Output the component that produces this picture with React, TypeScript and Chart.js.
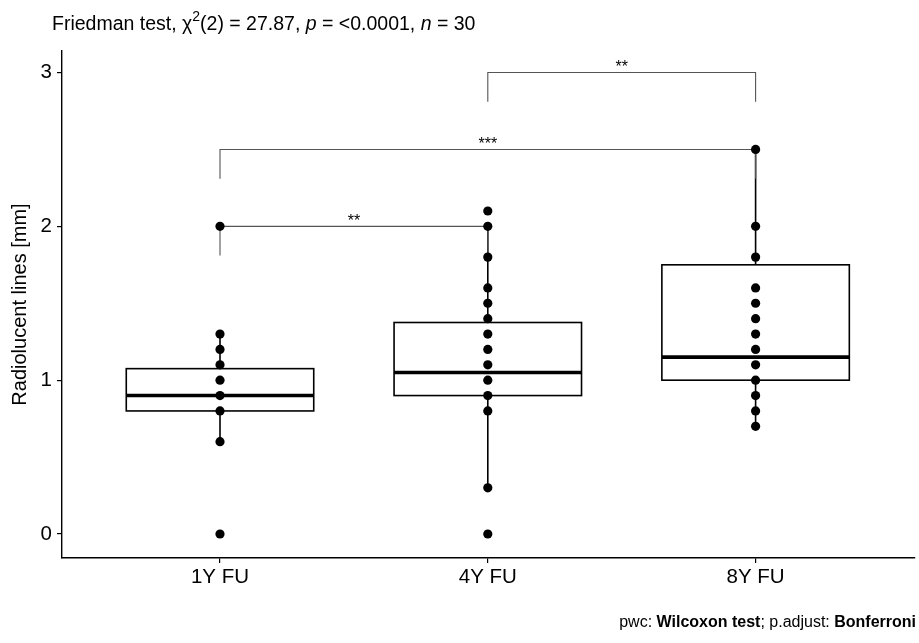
import React, { useEffect, useRef } from 'react';
import { Chart, registerables } from 'chart.js';

Chart.register(...registerables);

const FONT = '"Liberation Sans", Arial, Helvetica, sans-serif';

const categories = ['1Y FU', '4Y FU', '8Y FU'];
const values1Y = [0, 0.6, 0.8, 0.9, 1.0, 1.1, 1.2, 1.3, 2.0];
const values4Y = [0, 0.3, 0.8, 0.9, 1.0, 1.1, 1.2, 1.3, 1.4, 1.5, 1.6, 1.8, 2.0, 2.1];
const values8Y = [0.7, 0.8, 0.9, 1.0, 1.1, 1.2, 1.3, 1.4, 1.5, 1.6, 1.8, 2.0, 2.5];
const groupValues = [values1Y, values4Y, values8Y];

const boxQ1 = [0.8, 0.9, 1.0];
const boxMedian = [0.9, 1.05, 1.15];
const boxQ3 = [1.075, 1.375, 1.75];
const whiskerLow = [0.6, 0.3, 0.7];
const whiskerHigh = [1.3, 2.0, 2.5];

const yTicks = [0, 1, 2, 3];

const bracketStart = [1, 1, 2];
const bracketEnd = [2, 3, 3];
const bracketY = [2.0, 2.5, 3.0];
const bracketLabels = ['**', '***', '**'];
const BRACKET_TIP = 0.19;
const BOX_WIDTH = 0.7;

type Seg = { text: string; font: string; dy?: number };

function drawSegments(ctx: CanvasRenderingContext2D, segs: Seg[], x: number, y: number, alignRight = false) {
  ctx.save();
  ctx.fillStyle = '#000';
  ctx.textBaseline = 'alphabetic';
  ctx.textAlign = 'left';
  let total = 0;
  for (const s of segs) {
    ctx.font = s.font;
    total += ctx.measureText(s.text).width;
  }
  let cx = alignRight ? x - total : x;
  for (const s of segs) {
    ctx.font = s.font;
    ctx.fillText(s.text, cx, y + (s.dy || 0));
    cx += ctx.measureText(s.text).width;
  }
  ctx.restore();
}

const boxPlugin = {
  id: 'boxPlugin',
  beforeDatasetsDraw(chart: any) {
    const { ctx, scales } = chart;
    const x = scales.x;
    const y = scales.y;
    ctx.save();
    for (let i = 0; i < categories.length; i++) {
      const pos = i + 1;
      const cx = x.getPixelForValue(pos);
      const left = x.getPixelForValue(pos - BOX_WIDTH / 2);
      const right = x.getPixelForValue(pos + BOX_WIDTH / 2);
      const yq1 = y.getPixelForValue(boxQ1[i]);
      const yq3 = y.getPixelForValue(boxQ3[i]);
      const ymed = y.getPixelForValue(boxMedian[i]);
      const ylo = y.getPixelForValue(whiskerLow[i]);
      const yhi = y.getPixelForValue(whiskerHigh[i]);
      ctx.strokeStyle = '#000';
      ctx.lineWidth = 1.6;
      ctx.beginPath();
      ctx.moveTo(cx, yhi);
      ctx.lineTo(cx, yq3);
      ctx.moveTo(cx, yq1);
      ctx.lineTo(cx, ylo);
      ctx.stroke();
      ctx.fillStyle = '#fff';
      ctx.fillRect(left, yq3, right - left, yq1 - yq3);
      ctx.lineWidth = 1.6;
      ctx.strokeRect(left, yq3, right - left, yq1 - yq3);
      ctx.lineWidth = 3.6;
      ctx.beginPath();
      ctx.moveTo(left, ymed);
      ctx.lineTo(right, ymed);
      ctx.stroke();
    }
    // brackets
    for (let i = 0; i < bracketLabels.length; i++) {
      const x1 = x.getPixelForValue(bracketStart[i]);
      const x2 = x.getPixelForValue(bracketEnd[i]);
      const yy = y.getPixelForValue(bracketY[i]);
      const yt = y.getPixelForValue(bracketY[i] - BRACKET_TIP);
      ctx.strokeStyle = '#555';
      ctx.lineWidth = 1.1;
      ctx.beginPath();
      ctx.moveTo(x1, yt);
      ctx.lineTo(x1, yy);
      ctx.lineTo(x2, yy);
      ctx.lineTo(x2, yt);
      ctx.stroke();
      ctx.fillStyle = '#000';
      ctx.font = `16px ${FONT}`;
      ctx.textAlign = 'center';
      ctx.textBaseline = 'alphabetic';
      ctx.fillText(bracketLabels[i], (x1 + x2) / 2, yy - 0.5);
    }
    ctx.restore();
  },
  afterDraw(chart: any) {
    const ctx = chart.ctx;
    const big = `19.5px ${FONT}`;
    const it = `italic 19.5px ${FONT}`;
    const sup = `14px ${FONT}`;
    drawSegments(ctx, [
      { text: 'Friedman test, χ', font: big },
      { text: '2', font: sup, dy: -9 },
      { text: '(2) = 27.87, ', font: big },
      { text: 'p', font: it },
      { text: ' = <0.0001, ', font: big },
      { text: 'n', font: it },
      { text: ' = 30', font: big },
    ], 52, 30);
    const c = `16px ${FONT}`;
    const cb = `bold 16px ${FONT}`;
    drawSegments(ctx, [
      { text: 'pwc: ', font: c },
      { text: 'Wilcoxon test', font: cb },
      { text: '; p.adjust: ', font: c },
      { text: 'Bonferroni', font: cb },
    ], 916, 627, true);
  },
};

export default function App() {
  const ref = useRef<HTMLCanvasElement | null>(null);
  useEffect(() => {
    if (!ref.current) return;
    const datasets = groupValues.map((vals, i) => ({
      type: 'scatter' as const,
      label: categories[i],
      data: vals.map((v) => ({ x: i + 1, y: v })),
      pointRadius: 4.6,
      pointHoverRadius: 4.6,
      pointBackgroundColor: '#000',
      pointBorderWidth: 0,
      showLine: false,
    }));
    const chart = new Chart(ref.current, {
      type: 'scatter',
      data: { datasets },
      options: {
        responsive: false,
        animation: false,
        devicePixelRatio: 1,
        layout: { padding: { top: 51, right: 4, bottom: 0, left: 0 } },
        plugins: { legend: { display: false }, tooltip: { enabled: false }, title: { display: false } },
        scales: {
          x: {
            type: 'linear',
            min: 0.41,
            max: 3.593,
            afterBuildTicks: (axis: any) => {
              axis.ticks = categories.map((_, i) => ({ value: i + 1 }));
            },
            afterFit: (s: any) => {
              s.height = 85;
            },
            ticks: {
              callback: (v: any) => categories[Math.round(Number(v)) - 1] ?? '',
              font: { size: 20.5, family: FONT },
              color: '#000',
              padding: 2,
              maxRotation: 0,
              autoSkip: false,
            },
            grid: { display: true, drawOnChartArea: false, drawTicks: true, tickLength: 5, color: '#000', lineWidth: 1.2 },
            border: { display: true, color: '#000', width: 1.4 },
          },
          y: {
            type: 'linear',
            min: -0.156,
            max: 3.14,
            afterBuildTicks: (axis: any) => {
              axis.ticks = yTicks.map((v) => ({ value: v }));
            },
            afterFit: (s: any) => {
              s.width = 62;
            },
            ticks: {
              font: { size: 20.5, family: FONT },
              color: '#000',
              padding: 5,
            },
            grid: { display: true, drawOnChartArea: false, drawTicks: true, tickLength: 5, color: '#000', lineWidth: 1.2 },
            border: { display: true, color: '#000', width: 1.4 },
            title: {
              display: true,
              text: 'Radiolucent lines [mm]',
              font: { size: 20, family: FONT },
              color: '#000',
              padding: { top: 8, bottom: 0 },
            },
          },
        },
      },
      plugins: [boxPlugin],
    });
    return () => chart.destroy();
  }, []);
  return (
    <div style={{ position: 'absolute', left: 0, top: 0, width: 919, height: 643, background: '#fff' }}>
      <canvas ref={ref} width={919} height={643} />
    </div>
  );
}
